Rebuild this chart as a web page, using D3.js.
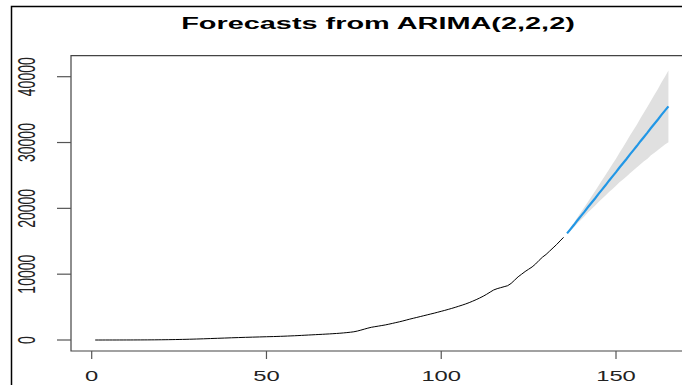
<!DOCTYPE html>
<html><head><meta charset="utf-8">
<script src="https://cdn.jsdelivr.net/npm/d3@7"></script>
<style>html,body{margin:0;padding:0;background:#fff;overflow:hidden}</style>
</head><body>
<svg id="c" width="682" height="385"></svg>
<script>
const titleText = "Forecasts from ARIMA(2,2,2)";
const xTicks = [0, 50, 100, 150];
const yTicks = [0, 10000, 20000, 30000, 40000];
const observed = [
0,0,0,1,1,2,2,3,4,5,
6,8,10,12,15,18,22,26,31,37,
44,52,60,70,80,92,104,118,132,148,
165,182,200,220,240,258,276,295,315,335,
352,370,388,405,420,436,450,465,480,494,
508,524,540,558,578,600,622,645,670,700,
728,755,782,810,838,865,895,925,958,992,
1030,1075,1125,1180,1250,1360,1500,1650,1800,1930,
2020,2110,2200,2290,2400,2520,2640,2760,2890,3030,
3170,3300,3430,3560,3690,3820,3950,4080,4220,4360,
4500,4650,4800,4960,5130,5300,5480,5680,5900,6130,
6380,6650,6950,7280,7600,7800,7950,8100,8250,8600,
9100,9600,10000,10400,10750,11100,11550,12100,12600,13000,
13500,14000,14500,15050,15600];
const forecastMean = [
16200,16850,17500,18200,18850,19500,20200,20850,21500,22200,
22850,23500,24200,24850,25500,26200,26850,27500,28200,28850,
29500,30200,30850,31500,32200,32850,33500,34200,34850,35500];
const forecastUpper = [
16350,17100,17850,18650,19450,20200,21000,21800,22600,23450,
24250,25050,25900,26750,27550,28450,29300,30150,31050,31900,
32750,33700,34550,35450,36350,37250,38150,39100,40000,40950];
const forecastLower = [
16050,16600,17150,17750,18250,18800,19400,19900,20400,20950,
21450,21950,22500,22950,23450,23950,24400,24850,25350,25800,
26250,26700,27150,27550,28050,28450,28850,29300,29700,30050];

const svg = d3.select("#c");
const SX = 1.7; // horizontal stretch of the reference image
const L = 71, T = 55.7, B = 351;
const x = d3.scaleLinear().domain([0,150]).range([91.7,616]);
const y = d3.scaleLinear().domain([0,40000]).range([340,76.7]);

// outer frame (left + top)
svg.append("path").attr("d","M11.5,385 V6.5 H682").attr("fill","none").attr("stroke","#000").attr("stroke-width",1.5);

// title
svg.append("text").attr("transform",`translate(378,28.5) scale(${SX},1)`)
  .attr("text-anchor","middle").attr("font-family","Liberation Sans, Arial, sans-serif")
  .attr("font-weight","bold").attr("font-size",17).attr("fill","#000").text(titleText);

const obsT = observed.map((v,i)=>({t:i+1,v}));
const fc = forecastMean.map((v,i)=>({t:observed.length+1+i,v,u:forecastUpper[i],l:forecastLower[i]}));

// band
svg.append("path").datum(fc)
  .attr("d", d3.area().x(d=>x(d.t)).y0(d=>y(d.l)).y1(d=>y(d.u)))
  .attr("fill","#e0e0e0");

// observed
svg.append("path").datum(obsT)
  .attr("d", d3.line().x(d=>x(d.t)).y(d=>y(d.v)))
  .attr("fill","none").attr("stroke","#000").attr("stroke-width",1);

// forecast mean
svg.append("path").datum(fc)
  .attr("d", d3.line().x(d=>x(d.t)).y(d=>y(d.v)))
  .attr("fill","none").attr("stroke","#2297E6").attr("stroke-width",2.2);

// box
svg.append("path").attr("d",`M700,${T} H${L} V${B} H700`).attr("fill","none").attr("stroke","#444").attr("stroke-width",1.2);

// y axis ticks
const yg = svg.append("g");
yTicks.forEach(v=>{
  yg.append("line").attr("x1",57).attr("x2",L).attr("y1",y(v)).attr("y2",y(v)).attr("stroke","#555").attr("stroke-width",1.2);
  yg.append("text").attr("transform",`translate(26.5,${y(v)}) scale(${SX},1) rotate(-90)`)
    .attr("text-anchor","middle").attr("dy","0.36em")
    .attr("font-family","Liberation Sans, Arial, sans-serif").attr("font-size",14).attr("fill","#222")
    .text(d3.format("d")(v));
});
// x axis ticks
const xg = svg.append("g");
xTicks.forEach(v=>{
  xg.append("line").attr("x1",x(v)).attr("x2",x(v)).attr("y1",B).attr("y2",B+8).attr("stroke","#555").attr("stroke-width",1.2);
  xg.append("text").attr("transform",`translate(${x(v)},380.5) scale(${SX},1)`)
    .attr("text-anchor","middle")
    .attr("font-family","Liberation Sans, Arial, sans-serif").attr("font-size",14).attr("fill","#222")
    .text(v);
});
</script>
</body></html>
